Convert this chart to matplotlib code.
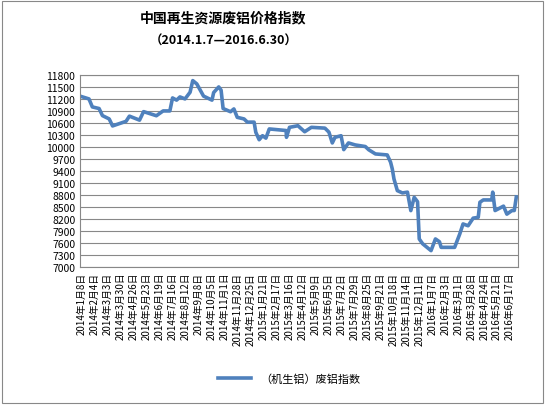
import matplotlib
matplotlib.use("Agg")
import matplotlib.pyplot as plt
import numpy as np
import datetime as dt

plt.rcParams['font.family'] = ['Noto Sans CJK SC', 'DejaVu Sans']

zx = [78,100,110,130,140,160,170,210,220,250,262,300,320,340,348,360,370,385,400,408,420,440,465,470,485,492,498,520,530,540,560,570,590,595,605,615,625,635,685,686,695,720,740,760,800,812,822,830,848,856,870,890,920,930,950,985,995,1000,1005,1015,1030,1045,1055,1065,1075,1080,1090,1115,1128,1140,1145,1185,1200,1210,1225,1240,1255,1260,1270,1295,1298,1305,1330,1340,1355,1362,1368]
values = [11258,11200,11000,10960,10783,10700,10525,10640,10770,10670,10883,10780,10900,10900,11225,11170,11250,11200,11367,11658,11575,11270,11170,11360,11500,11420,10960,10880,10950,10740,10700,10620,10620,10367,10180,10280,10220,10450,10410,10240,10490,10530,10380,10490,10470,10370,10100,10240,10280,9933,10100,10050,10010,9930,9825,9800,9617,9450,9200,8908,8850,8870,8408,8740,8630,7700,7580,7408,7700,7630,7490,7490,7820,8075,8030,8220,8240,8617,8675,8675,8870,8410,8520,8320,8410,8410,8750]
start = dt.date(2014,1,7)
end = dt.date(2016,6,30)
span = (end-start).days
days = [(z-78)/1290*span for z in zx]

label_dates = []
d = dt.date(2014,1,8)
while d <= end:
    label_dates.append(d)
    d += dt.timedelta(days=27)
tick_pos = [(x-start).days for x in label_dates]
tick_labels = [f"{x.year}年{x.month}月{x.day}日" for x in label_dates]

fig = plt.figure(figsize=(5.45,4.06), dpi=100)
fig.patches.append(plt.Rectangle((0.004,0.004),0.992,0.992,transform=fig.transFigure,fill=False,edgecolor='#888888',lw=0.8))
ax = fig.add_axes([0.147,0.34,0.803,0.473])
ax.plot(days, values, color='#4F81BD', lw=2.6, label='（机生铝）废铝指数')
ax.set_ylim(7000,11800)
ax.set_yticks(np.arange(7000,11801,300))
ax.set_xlim(-3, span+3)
ax.set_xticks(tick_pos)
ax.set_xticklabels(tick_labels, rotation=90, fontsize=7)
ax.tick_params(axis='y', labelsize=7.5, length=0)
ax.tick_params(axis='x', length=0)
ax.grid(axis='y', color='#888888', lw=0.8)
for s in ax.spines.values():
    s.set_color('#888888')
ax.set_axisbelow(True)
fig.text(0.41,0.945,'中国再生资源废铝价格指数',ha='center',fontsize=10,fontweight='bold')
fig.text(0.41,0.89,'（2014.1.7—2016.6.30）',ha='center',fontsize=9,fontweight='bold')
fig.legend(loc='center', bbox_to_anchor=(0.53,0.065), frameon=False, fontsize=8, handlelength=3)
fig.savefig('out.png')
